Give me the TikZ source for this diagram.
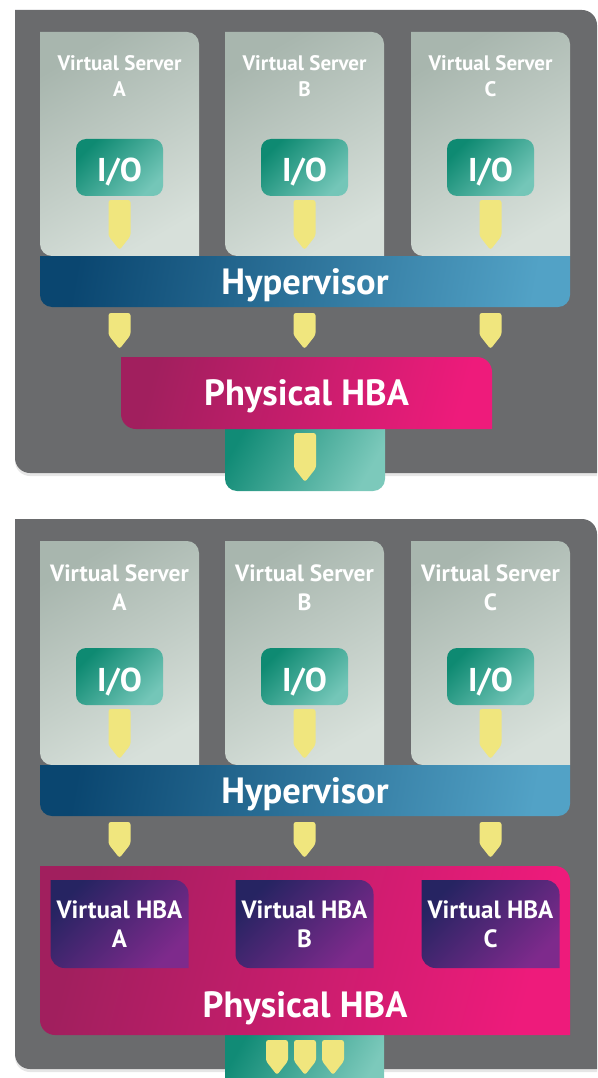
\documentclass[tikz,border=0pt]{standalone}
\usepackage{fontspec}
\setmainfont{PT Sans}
\usetikzlibrary{positioning,backgrounds,shadows}

\definecolor{panelgray}{HTML}{6A6B6D}
\definecolor{vsdark}{HTML}{A8B6AE}
\definecolor{vslight}{HTML}{D7E0DA}
\definecolor{iodark}{HTML}{0E8A72}
\definecolor{iolight}{HTML}{74C6B8}
\definecolor{arrowyellow}{HTML}{F0E67E}
\definecolor{hypdark}{HTML}{0A4670}
\definecolor{hyplight}{HTML}{52A2C6}
\definecolor{hbadark}{HTML}{A11F5E}
\definecolor{hbalight}{HTML}{EE1B7B}
\definecolor{vhbadark}{HTML}{262462}
\definecolor{vhbalight}{HTML}{7E2A8C}
\definecolor{linkdark}{HTML}{118B76}
\definecolor{linklight}{HTML}{7CC9BB}

% box round a node, top right and bottom left corners rounded
\newcommand{\slantbox}[3]{%
  \path[#1] (#2.north west) -- ([xshift=-#3]#2.north east)
    arc[start angle=90, end angle=0, radius=#3] -- (#2.south east)
    -- ([xshift=#3]#2.south west) arc[start angle=270, end angle=180, radius=#3] -- cycle;}
% box round a node, both bottom corners rounded
\newcommand{\bottomround}[3]{%
  \path[#1] (#2.north west) -- (#2.north east) -- ([yshift=#3]#2.south east)
    arc[start angle=0, end angle=-90, radius=#3]
    -- ([xshift=#3]#2.south west) arc[start angle=270, end angle=180, radius=#3] -- cycle;}
% yellow arrow: x, top, tip
\newcommand{\ioarrow}[3]{%
  \fill[arrowyellow, rounded corners=2.5pt] (#1-11,#2) -- (#1+11,#2) -- (#1+11,#3+14)
    -- (#1,#3) -- (#1-11,#3+14) -- cycle;}

\tikzset{
  hold/.style={inner sep=0pt, outer sep=0pt},
  vslabel/.style={text=white, align=center, inner sep=0pt, font=\bfseries\fontsize{21}{26}\selectfont},
  vslabelbig/.style={vslabel, font=\bfseries\fontsize{23.5}{29}\selectfont},
  iobox/.style={hold, rounded corners=10pt, minimum width=87, minimum height=57,
    top color=iodark, bottom color=iolight, shading angle=45,
    text=white, text height=29pt, text depth=0pt, font=\bfseries\fontsize{33}{36}\selectfont},
  bartext/.style={text=white, text depth=0pt, font=\bfseries\fontsize{36.5}{42}\selectfont},
  vhbalabel/.style={text=white, align=center, font=\bfseries\fontsize{25}{29}\selectfont},
  vsshade/.style={top color=vsdark, bottom color=vslight, shading angle=30},
  hypshade/.style={top color=hypdark, bottom color=hyplight, shading angle=80},
  hbashade/.style={top color=hbadark, bottom color=hbalight, shading angle=75},
  vhbashade/.style={top color=vhbadark, bottom color=vhbalight, shading angle=45},
  linkshade/.style={top color=linkdark, bottom color=linklight, shading angle=60},
  panelfill/.style={fill=panelgray, drop shadow={shadow xshift=0pt, shadow yshift=-3pt, opacity=0.2}}
}

\begin{document}
\begin{tikzpicture}[x=1pt, y=1pt, line join=round]
\useasboundingbox (0,0) rectangle (597,-1078);

% upper drawing
\node[hold, minimum width=582, minimum height=463] (back1) at (306,-241.5) {};
\foreach \s/\x in {A/119.5,B/304.5,C/490.5}{
  \node[hold, minimum width=159, minimum height=224] (vs\s1) at (\x,-144) {};
  \node[vslabel, below=23.5pt of vs\s1.north] (vsl\s1) {Virtual Server\\\s};
  \node[iobox] (io\s1) at (\x,-167.5) {I/O};
  \ioarrow{\x}{-200}{-250}
  \ioarrow{\x}{-313}{-349}
}
\node[hold, bartext, minimum width=530, minimum height=51] (hyp1) at (305,-281.5) {Hypervisor};
\node[hold, bartext, minimum width=371, minimum height=72] (hba1) at (306.5,-393) {Physical HBA};
\node[hold, minimum width=160, minimum height=76] (link1) at (305,-453) {};
\ioarrow{305}{-433}{-482}

% lower drawing
\node[hold, minimum width=582, minimum height=550] (back2) at (306,-794) {};
\foreach \s/\x in {A/119.5,B/304.5,C/490.5}{
  \node[hold, minimum width=159, minimum height=224] (vs\s2) at (\x,-653) {};
  \node[vslabelbig, below=23.5pt of vs\s2.north] (vsl\s2) {Virtual Server\\\s};
  \node[iobox] (io\s2) at (\x,-676.5) {I/O};
  \ioarrow{\x}{-709}{-759}
  \ioarrow{\x}{-822}{-858}
  \node[hold, vhbalabel, minimum width=138, minimum height=88] (vhba\s) at (\x,-924) {Virtual HBA\\\s};
}
\node[hold, bartext, minimum width=530, minimum height=51] (hyp2) at (305,-790.5) {Hypervisor};
\node[hold, minimum width=530, minimum height=169] (hba2) at (305,-950.5) {};
\node[bartext] (hbal2) at (305,-1005) {Physical HBA};
\node[hold, minimum width=159, minimum height=70] (link2) at (304.5,-1060) {};
\foreach \x in {277,305,333}{\ioarrow{\x}{-1040}{-1075}}

\begin{scope}[on background layer]
  \slantbox{panelfill}{back1}{15pt}
  \slantbox{panelfill}{back2}{15pt}
  \bottomround{linkshade}{link1}{12pt}
  \bottomround{linkshade}{link2}{12pt}
  \foreach \s in {A,B,C}{
    \slantbox{vsshade}{vs\s1}{12pt}
    \slantbox{vsshade}{vs\s2}{12pt}
  }
  \bottomround{hypshade}{hyp1}{12pt}
  \bottomround{hypshade}{hyp2}{12pt}
  \slantbox{hbashade}{hba1}{15pt}
  \slantbox{hbashade}{hba2}{15pt}
  \foreach \s in {A,B,C}{\slantbox{vhbashade}{vhba\s}{14pt}}
\end{scope}
\end{tikzpicture}
\end{document}
